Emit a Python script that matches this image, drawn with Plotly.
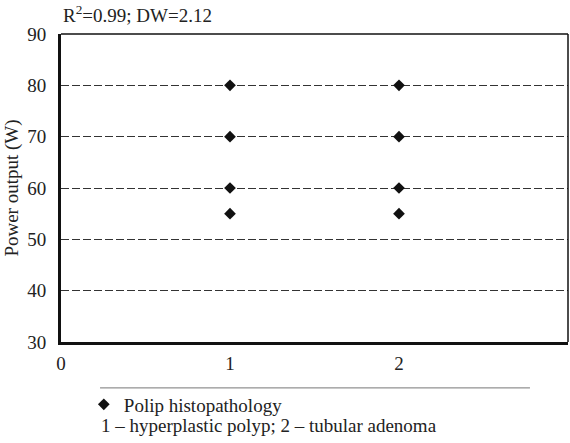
import plotly.graph_objects as go

histopathology = [1, 1, 1, 1, 2, 2, 2, 2]
power_output = [80, 70, 60, 55, 80, 70, 60, 55]
x_ticks = [0, 1, 2]
y_ticks = [30, 40, 50, 60, 70, 80, 90]

FONT = "Liberation Serif, serif"
FS = 19

fig = go.Figure()
fig.add_trace(go.Scatter(
    x=histopathology, y=power_output, mode="markers",
    name="Polip histopathology",
    marker=dict(symbol="diamond", size=9, color="#111111"),
))

fig.update_layout(
    width=570, height=443,
    margin=dict(l=61, r=2, t=34, b=101),
    paper_bgcolor="white", plot_bgcolor="white",
    font=dict(family=FONT, size=FS, color="#222222"),
    showlegend=True,
    legend=dict(x=0.045, y=-0.141, xanchor="left", yanchor="top",
                font=dict(family=FONT, size=FS, color="#222222"),
                bgcolor="rgba(0,0,0,0)", itemwidth=30),
    xaxis=dict(range=[0, 3], tickvals=x_ticks, showgrid=False, zeroline=False,
               showline=True, linecolor="#111111", linewidth=3,
               ticks="", ticklabelstandoff=2,
               tickfont=dict(family=FONT, size=FS)),
    yaxis=dict(range=[30, 90], tickvals=y_ticks, showgrid=True,
               gridcolor="#333333", griddash="8px,3px", gridwidth=1,
               zeroline=False, showline=True, linecolor="#111111", linewidth=3,
               ticks="", ticklabelstandoff=8,
               tickfont=dict(family=FONT, size=FS),
               title=dict(text="Power output (W)", standoff=4,
                          font=dict(family=FONT, size=FS))),
)

# thin top and right frame
fig.add_shape(type="line", xref="paper", yref="paper", x0=0, x1=1, y0=1, y1=1,
              line=dict(color="#111111", width=1.5))
fig.add_shape(type="line", xref="paper", yref="paper", x0=1, x1=1, y0=0, y1=1,
              line=dict(color="#111111", width=1.5))
# separator line above legend
fig.add_shape(type="line", xref="paper", yref="paper", x0=0.077, x1=0.925,
              y0=-0.149, y1=-0.149, line=dict(color="#777777", width=1))

fig.add_annotation(text="R<sup>2</sup>=0.99; DW=2.12", xref="paper", yref="paper",
                   x=0.0, y=1.018, xanchor="left", yanchor="bottom", showarrow=False,
                   font=dict(family=FONT, size=FS, color="#222222"))
fig.add_annotation(text="1 – hyperplastic polyp; 2 – tubular adenoma", xref="paper",
                   yref="paper", x=0.075, y=-0.232, xanchor="left", yanchor="top",
                   showarrow=False, font=dict(family=FONT, size=FS, color="#222222"))

fig.write_html("out.html")
